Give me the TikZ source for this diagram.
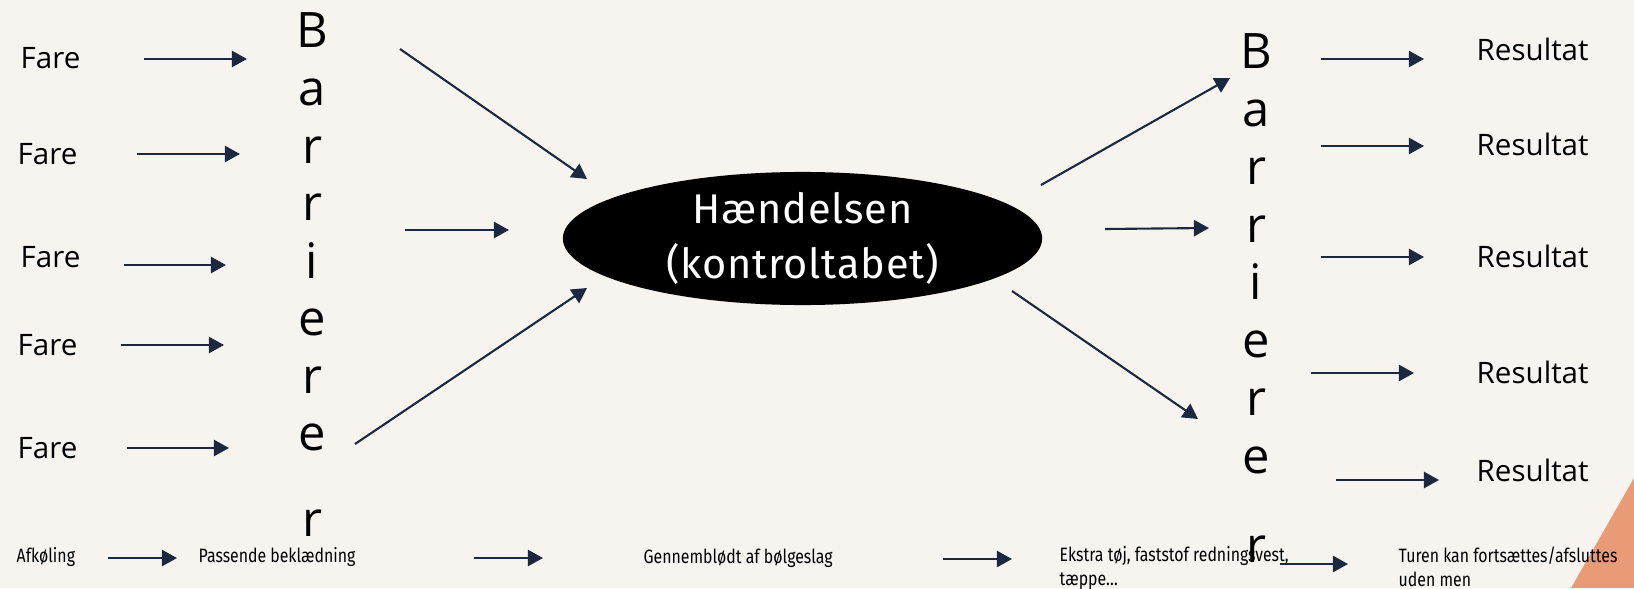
\documentclass[tikz,border=0pt]{standalone}
\usepackage{fontspec}
\setmainfont{Open Sans}
\newfontfamily\techFont{Fira Sans}[LetterSpace=2]
\newfontfamily\smallTechFont{Fira Sans}[FakeStretch=0.82]
\usetikzlibrary{arrows.meta,shapes.geometric}
\definecolor{paperColor}{RGB}{247,244,240}
\definecolor{arrowColor}{RGB}{28,40,64}
\definecolor{cornerColor}{RGB}{233,155,120}
\tikzstyle{diagram} = [x=0.01cm, y=-0.01cm]
\tikzstyle{arrowLine} = [color=arrowColor, line width=0.6pt, -{Triangle[length=4.3pt,width=4.6pt]}]
\tikzstyle{fareText} = [font=\fontsize{8.4}{10}\selectfont, anchor=base west, inner sep=0pt]
\tikzstyle{barrierLetter} = [font=\fontsize{13.9}{16}\selectfont, anchor=base, inner sep=0pt]
\tikzstyle{eventShape} = [ellipse, fill=black, text=white, minimum width=4.79cm, minimum height=1.33cm, inner sep=0pt, align=center, font=\techFont\fontsize{11.8}{15.6}\selectfont]
\tikzstyle{chainText} = [font=\smallTechFont\fontsize{5.5}{6.8}\selectfont, anchor=base west, inner sep=0pt, align=left]
\newcommand{\namedArrow}[3]{
  \coordinate (#1Start) at (#2);
  \coordinate (#1End) at (#3);
  \draw [arrowLine] (#1Start) -- (#1End);
}

\begin{document}
\begin{tikzpicture}[diagram]
  \fill [paperColor] (0,0) rectangle (1634,588);
  \useasboundingbox (0,0) rectangle (1634,588);
  \fill [cornerColor] (1634,478) -- (1571,588) -- (1634,588) -- cycle;

  % hazards on the left
  \foreach \x/\y [count=\i] in {20/69, 17/165, 20/267, 17/355, 17/458}
    \node [fareText] (fare\i) at (\x,\y) {Fare};
  \foreach \a/\b/\y [count=\i] in {144/247/59, 137/240/154, 124/226/265, 121/224/345, 127/229/448} {
    \namedArrow{fareArrow\i}{\a,\y}{\b,\y}
  }

  % barriers
  \foreach \l/\y [count=\i] in {B/48, a/105.5, r/163, r/220.5, i/278, e/335.5, r/393, e/450.5, r/536}
    \node [barrierLetter] (leftBarrier\i) at (312,\y) {\l};
  \foreach \l/\y [count=\i] in {B/69, a/126.7, r/184.4, r/242, i/299.8, e/357.5, r/415, e/473, r/562}
    \node [barrierLetter] (rightBarrier\i) at (1256,\y) {\l};

  % the event
  \node [eventShape] (event) at (802.5,238.5) {H\ae ndelsen\\(kontroltabet)};
  \namedArrow{inTop}{400,49}{587,179}
  \namedArrow{inMid}{405,230}{509,230}
  \namedArrow{inLow}{355,444}{587,288}
  \namedArrow{outTop}{1041,185}{1230,78}
  \namedArrow{outMid}{1105,229}{1209,228}
  \namedArrow{outLow}{1012,291}{1198,419}

  % outcomes on the right
  \foreach \y [count=\i] in {61, 156, 267, 383, 481}
    \node [fareText] (resultat\i) at (1476,\y) {Resultat};
  \foreach \a/\b/\y [count=\i] in {1321/1424/59, 1321/1424/146, 1321/1424/257, 1311/1414/373, 1336/1439/480} {
    \namedArrow{resultatArrow\i}{\a,\y}{\b,\y}
  }

  % example chain along the bottom
  \node [chainText] (afkoling) at (16,562) {Afkøling};
  \node [chainText] (paakladning) at (198,562) {Passende beklædning};
  \node [chainText] (gennemblodt) at (643,563) {Gennemblødt af bølgeslag};
  \node [chainText] (ekstra) at (1059,585) {Ekstra tøj, faststof redningsvest,\\tæppe…};
  \node [chainText] (turen) at (1398,586) {Turen kan fortsættes/afsluttes\\uden men};
  \namedArrow{chainOne}{108,558}{177,558}
  \namedArrow{chainTwo}{474,558}{543,558}
  \namedArrow{chainThree}{943,559}{1012,559}
  \namedArrow{chainFour}{1280,564}{1348,564}
\end{tikzpicture}
\end{document}
